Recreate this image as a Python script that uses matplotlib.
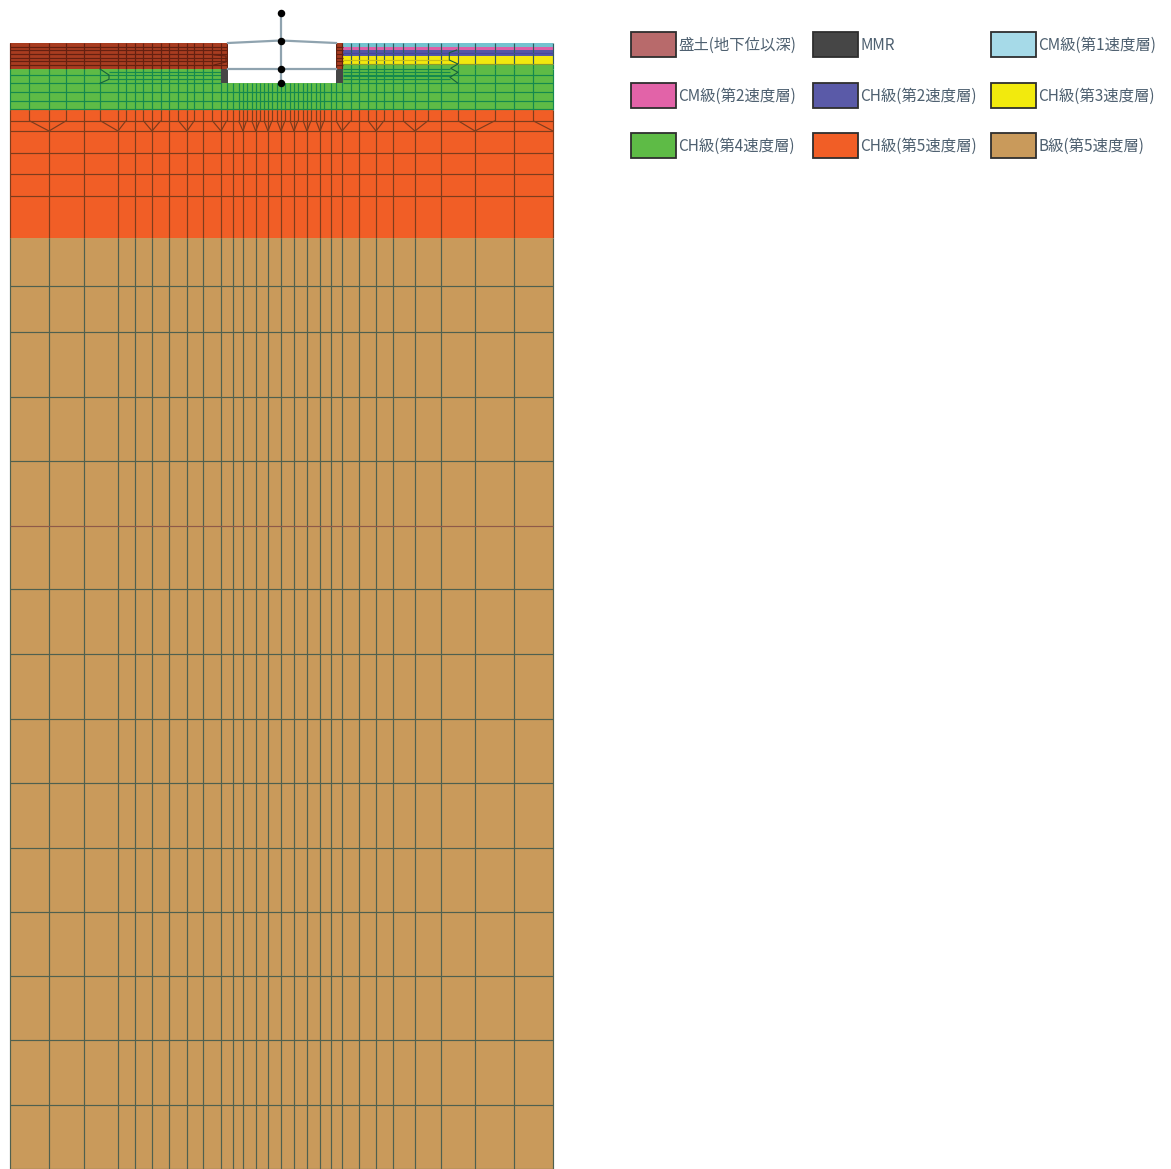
import matplotlib
matplotlib.use("Agg")
import matplotlib.pyplot as plt
from matplotlib.patches import Rectangle
from matplotlib.collections import LineCollection

plt.rcParams['font.family'] = ['Noto Sans CJK JP', 'DejaVu Sans']

# ---------- mesh (unit: reference pixel) ----------
x_left, x_right = 10, 553
x_wall_l_out, x_wall_l_in = 220.5, 228
x_wall_r_in, x_wall_r_out = 336, 342.5
y_top, y_mmr, y_floor, y_orange, y_tan, y_bottom = 43, 69, 83, 110, 238.3, 1169

# vertical grid lines of the deep part, those that run to the top, and V-joined ones
x_deep = [10, 49, 84, 118, 135, 152, 169, 187, 203, 221, 233, 243, 255.7, 268, 281,
          294, 307, 320, 331, 342, 359, 376, 393, 415, 441, 475, 514, 553]
# apex x, left upper x, right upper x
v_apex = [49, 118, 152, 187, 221, 243, 255.7, 268, 281, 294, 307, 320, 342, 376, 415, 475, 553]
v_left = [29.3, 100.3, 143.3, 178.3, 212.3, 238.5, 251.7, 264, 277, 290, 303, 316, 336, 368, 403, 458, 533]
v_right = [66.3, 126, 160.7, 194.3, 226.7, 246.5, 259.7, 272, 285, 298, 311, 324, 350.7, 384, 428, 495, None]

y_red_lines = [46.5, 50, 53.5, 57.5, 61, 65]
y_green_common = [92.3, 100.7, 109]
y_green_outer = [75, 83.3]
y_green_inner_l = [71.7, 78.7]
y_green_inner_r = [69, 72, 75.7, 79.3]
y_joint_upper, y_joint_lower = 120.7, 131
y_orange_lines = [120.7, 131, 152.7, 174, 195.7]
y_tan_lines = [286, 332, 397, 461, 526, 589, 654, 719, 783, 848, 912, 976, 1040, 1105, 1168.5]

# right-hand strata (top, bottom, colour)
strata_tops = [43, 47, 50, 56]
strata_bots = [47, 50, 56, 64]
strata_cols = ['#74C3CF', '#DE5FA6', '#5556A6', '#F3E80E']
y_strata_lines = [53, 60, 64]
strata_line_cols = ['#47479A', '#C9BE12', '#8E9A2A']

# transition kinks
kink_left_x = [100, 109, 109, 100]
kink_left_y = [69, 75, 79.3, 83.3]
kink_right_x = [456.7, 449.3, 449.3, 458, 450.7, 458, 450, 458]
kink_right_y = [50, 52.7, 60, 64, 68.3, 72.3, 77.3, 83.3]
kink_wall_x = [214, 226, 226, 214]
kink_wall_y = [55, 56, 62, 65]

# structure
x_center = 281
y_nodes = [13, 40.5, 69, 83]

# legend
legend_labels = ['盛土(地下位以深)', 'MMR', 'CM級(第1速度層)',
                 'CM級(第2速度層)', 'CH級(第2速度層)', 'CH級(第3速度層)',
                 'CH級(第4速度層)', 'CH級(第5速度層)', 'B級(第5速度層)']
legend_colors = ['#B86A6B', '#464646', '#A6DAE8',
                 '#E263A8', '#5A5AA8', '#F2EA0D',
                 '#5EBB46', '#F15E26', '#C99A5B']
legend_col_x = [631, 813, 991]
legend_row_y = [32, 82.5, 133]

RED, GREEN, ORANGE, TAN, MMR = '#A83C20', '#5EBB46', '#F15E26', '#C99A5B', '#464646'
L_RED, L_GREEN, L_ORANGE, L_TAN = '#642010', '#14894E', '#7E3C1C', '#4F604F'
L_STRATA = '#2F5A60'

fig = plt.figure(figsize=(11.71, 11.69), dpi=100)
ax = fig.add_axes([0, 0, 1, 1])
ax.set_xlim(0, 1171)
ax.set_ylim(1169, 0)
ax.axis('off')


def rect(x0, y0, x1, y1, c, z=1):
    ax.add_patch(Rectangle((x0, y0), x1 - x0, y1 - y0, fc=c, ec='none', zorder=z))


rect(x_left, y_tan, x_right, y_bottom, TAN)
rect(x_left, y_orange, x_right, y_tan, ORANGE)
rect(x_left, y_mmr, x_right, y_orange, GREEN)
rect(x_left, y_top, x_wall_l_in, y_mmr, RED)
rect(x_wall_r_in, y_top, x_wall_r_out, y_mmr, RED)
for t, b, c in zip(strata_tops, strata_bots, strata_cols):
    rect(x_wall_r_out, t, x_right, b, c)
rect(x_wall_r_out, strata_bots[-1], x_right, y_mmr, GREEN)


def col_at(x, y):
    if y < y_mmr:
        if x > x_wall_r_out and y < strata_bots[-1]:
            return L_STRATA
        if x > x_wall_r_out:
            return L_GREEN
        return L_RED
    if y < y_orange:
        return L_GREEN
    if y < y_tan:
        return L_ORANGE
    return L_TAN


segs, cols = [], []


def vline(x, y0, y1):
    cuts = [y0] + [c for c in (strata_bots[-1], y_mmr, y_orange, y_tan) if y0 < c < y1] + [y1]
    for a, b in zip(cuts[:-1], cuts[1:]):
        segs.append([(x, a), (x, b)])
        cols.append(col_at(x, (a + b) / 2))


def upper_start(x):
    return y_floor if x_wall_l_in < x < x_wall_r_in else y_top


for x in x_deep:
    vline(x, upper_start(x), y_bottom)

for ap, l, r in zip(v_apex, v_left, v_right):
    for u in (l, r):
        if u is None:
            continue
        vline(u, upper_start(u), y_joint_upper)
        segs.append([(u, y_joint_upper), (ap, y_joint_lower)])
        cols.append(L_ORANGE)

for y in y_red_lines:
    segs.append([(x_left, y), (x_wall_l_in, y)])
    cols.append(L_RED)
    segs.append([(x_wall_r_in, y), (x_wall_r_out, y)])
    cols.append(L_RED)
for y, c in zip(y_strata_lines, strata_line_cols):
    segs.append([(x_wall_r_out, y), (x_right if y != 60 else 450, y)])
    cols.append(c)
for y in y_green_common:
    segs.append([(x_left, y), (x_right, y)])
    cols.append(L_GREEN)
for y in y_green_outer:
    segs.append([(x_left, y), (x_wall_l_out, y)])
    cols.append(L_GREEN)
    segs.append([(x_wall_r_out, y), (x_right, y)])
    cols.append(L_GREEN)
for y in y_green_inner_l:
    segs.append([(kink_left_x[1], y), (x_wall_l_out, y)])
    cols.append(L_GREEN)
for y in y_green_inner_r:
    segs.append([(x_wall_r_out, y), (kink_right_x[-1] - 8, y)])
    cols.append(L_GREEN)
for y in y_orange_lines:
    segs.append([(x_left, y), (x_right, y)])
    cols.append(L_ORANGE)
for y in y_tan_lines:
    segs.append([(x_left, y), (x_right, y)])
    cols.append('#8F5A48' if y == 526 else L_TAN)

ax.add_collection(LineCollection(segs, colors=cols, linewidths=0.85, zorder=4, capstyle='butt'))
rect(x_wall_l_in, y_top + 0.4, x_wall_r_in, y_floor, 'white', 5)
rect(x_wall_l_out, y_mmr, x_wall_l_in, y_floor, MMR, 5)
rect(x_wall_r_in, y_mmr, x_wall_r_out, y_floor, MMR, 5)

ax.plot(kink_left_x, kink_left_y, color='#15603C', lw=0.8, zorder=6)
ax.plot(kink_right_x, kink_right_y, color='#15603C', lw=0.8, zorder=6)
ax.plot(kink_wall_x, kink_wall_y, color=L_RED, lw=0.8, zorder=6)

# structure frame
STEEL = '#8FA3AF'
ax.plot([x_center, x_center], [y_nodes[0], y_nodes[-1]], color=STEEL, lw=1.6, zorder=7)
ax.plot([x_wall_l_in, x_center, x_wall_r_in], [y_top, y_nodes[1], y_top], color=STEEL, lw=1.6, zorder=7)
ax.plot([x_wall_l_in, x_wall_r_in], [y_nodes[2], y_nodes[2]], color=STEEL, lw=1.6, zorder=7)
ax.plot([x_center] * len(y_nodes), y_nodes, 'o', color='black', ms=5.4, mew=0, zorder=8)

# legend
for i, (lab, c) in enumerate(zip(legend_labels, legend_colors)):
    x0 = legend_col_x[i % 3]
    y0 = legend_row_y[i // 3]
    ax.add_patch(Rectangle((x0, y0), 45, 25, fc=c, ec='#2E2E2E', lw=1.3, zorder=3))
    ax.text(x0 + 47.5, y0 + 13.7, lab, fontsize=11.1, color='#4E6070', va='center', ha='left', zorder=3)

fig.savefig('out.png', dpi=100, facecolor='white')
